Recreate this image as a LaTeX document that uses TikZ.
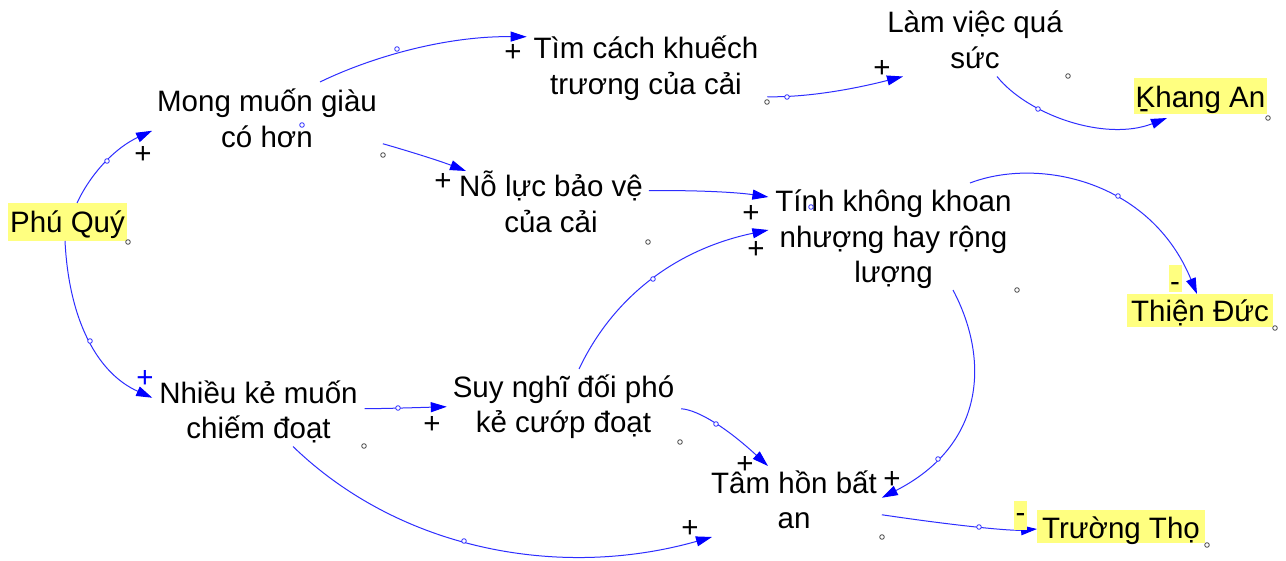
\documentclass[tikz,border=0pt]{standalone}
\usepackage{fontspec}
\setmainfont{Liberation Sans}
\usetikzlibrary{arrows.meta}
\definecolor{lkc}{RGB}{45,45,255}
\definecolor{hlc}{RGB}{255,255,128}
\definecolor{hdc}{RGB}{70,70,70}
\newcommand\fs{\fontsize{29.5pt}{35.5pt}\selectfont\lineskiplimit=-50pt\relax}
\newcommand\topstr{\rule{0pt}{30pt}}
\newcommand\botstr{\rule[-8pt]{0pt}{8pt}}
\begin{document}
\begin{tikzpicture}[x=1pt,y=-1pt,
  var/.style={font=\fs, align=center, inner xsep=6pt, inner ysep=0pt, outer sep=0pt},
  hl/.style={font=\fs, fill=hlc, inner sep=0pt, outer sep=0pt},
  sgp/.style={font=\fs, inner sep=0pt, text height=20.8pt, text depth=0pt},
  sgm/.style={font=\fs, fill=hlc, inner sep=0pt, minimum width=13pt},
  lk/.style={draw=lkc, line width=1pt, -{Triangle[length=16pt,width=10pt,color=blue]}},
  hd/.style={draw=hdc, line width=0.8pt, fill=white},
  hb/.style={draw=lkc, line width=0.8pt, fill=white}]
\fill[white] (0,0) rectangle (1286,561);
\useasboundingbox (0,0) rectangle (1286,561);
% variables
\node[hl, minimum width=119pt, minimum height=38pt, text height=30pt, text depth=8pt] (pq) at (67.5,222) {Phú Quý};
\node[var] (mm) at (267,118.75) {\topstr Mong muốn giàu\\có hơn\botstr};
\node[var] (tc) at (646,65.75) {\topstr Tìm cách khuếch\\trương của cải\botstr};
\node[var] (lv) at (975,39.75) {\topstr Làm việc quá\\sức\botstr};
\node[hl, minimum width=133pt, minimum height=36pt, text height=30pt, text depth=6pt] (ka) at (1200.5,96) {Khang An};
\node[var] (nl) at (551,203.75) {\topstr Nỗ lực bảo vệ\\của cải\botstr};
\node[var] (tn) at (893.5,236.5) {\topstr Tính không khoan\\nhượng hay rộng\\lượng\botstr};
\node[hl, minimum width=146pt, minimum height=33pt, text height=27.7pt, text depth=5.3pt] (td) at (1200,310.5) {Thiện Đức};
\node[var] (nk) at (258.5,409.75) {\topstr Nhiều kẻ muốn\\chiếm đoạt\botstr};
\node[var] (sn) at (563.5,403.75) {\topstr Suy nghĩ đối phó\\kẻ cướp đoạt\botstr};
\node[var] (th) at (794,499.75) {\topstr Tâm hồn bất\\an\botstr};
\node[hl, minimum width=168pt, minimum height=33pt, text height=28pt, text depth=5pt] (tt) at (1121,526.5) {Trường Thọ};
% links
\draw[lk] ([shift={(9.5,0)}]pq.north) .. controls (92,171) and (117,147) .. ([shift={(1,12)}]mm.west);
\draw[lk] ([shift={(-2.5,0)}]pq.south) .. controls (69,322) and (98.3,373.7) .. ([shift={(-1,-12)}]nk.west);
\draw[lk] ([shift={(53,0)}]mm.north) .. controls (365,60) and (440,36) .. ([shift={(-1,-29)}]tc.west);
\draw[lk] ([shift={(0,25)}]mm.east) .. controls (410,151.5) and (440,161) .. ([shift={(-85,4)}]nl.north);
\draw[lk] ([shift={(3,31)}]tc.east) .. controls (805,97.5) and (850,90) .. ([shift={(-72,0)}]lv.south);
\draw[lk] ([shift={(22,0)}]lv.south) .. controls (1028,115) and (1105,142) .. ([shift={(-33.5,4)}]ka.south);
\draw[lk] ([shift={(0,-13)}]nl.east) .. controls (690,190) and (735,192) .. ([shift={(-1,-39.5)}]tn.west);
\draw[lk] ([shift={(15.5,2)}]sn.north) .. controls (614,295.3) and (677.7,249) .. ([shift={(-1,-6.5)}]tn.west);
\draw[lk] ([shift={(76.5,1)}]tn.north) .. controls (1038,157) and (1150,180) .. ([shift={(-3,0)}]td.north);
\draw[lk] ([shift={(59.5,-1)}]tn.south) .. controls (990,360) and (985,445) .. ([shift={(-1,-2)}]th.east);
\draw[lk] ([shift={(1,-1)}]nk.east) .. controls (390,408.5) and (420,407.5) .. ([shift={(0,3)}]sn.west);
\draw[lk] ([shift={(34.5,0)}]nk.south) .. controls (400,550) and (560,580) .. ([shift={(-82,0.5)}]th.south);
\draw[lk] ([shift={(1,5)}]sn.east) .. controls (698.7,410) and (728,429) .. ([shift={(-26,3)}]th.north);
\draw[lk] ([shift={(-1,15)}]th.east) .. controls (959.7,526.3) and (1011.3,531) .. ([shift={(0,2.5)}]tt.west);
% polarities
\node[sgp] (p1) at (143,153) {+};
\node[sgp, text=blue] (p2) at (145,377) {+};
\node[sgp] (p3) at (513,51) {+};
\node[sgp] (p4) at (443,180) {+};
\node[sgp] (p5) at (882,67) {+};
\node[sgp, text height=14.4pt] (p6) at (1144,111.5) {-};
\node[sgp] (p7) at (751,212) {+};
\node[sgp] (p8) at (756,248) {+};
\node[sgm, text height=26.2pt, text depth=0.8pt] (p9) at (1175,278.5) {-};
\node[sgp] (p10) at (892,478) {+};
\node[sgp] (p11) at (432,423) {+};
\node[sgp] (p12) at (690,527) {+};
\node[sgp] (p13) at (745,463) {+};
\node[sgm, text height=21.7pt, text depth=7.3pt] (p14) at (1020.5,515.5) {-};
% handles
\foreach \p in {(128,242),(383,155),(767,102),(1068,76),(1268,118),(648,242),(1017,290),(1275,328),(364,446),(680,442),(882,537),(1207,545)}
  \draw[hd] \p circle (2.3pt);
\foreach \p in {(107,161),(90,341),(397,49),(787,97),(1038,109),(653,279),(1118,196),(938,459),(398,408),(464,541),(716,424),(979,527),(302,125),(811,207)}
  \draw[hb] \p circle (2.3pt);
\end{tikzpicture}
\end{document}
